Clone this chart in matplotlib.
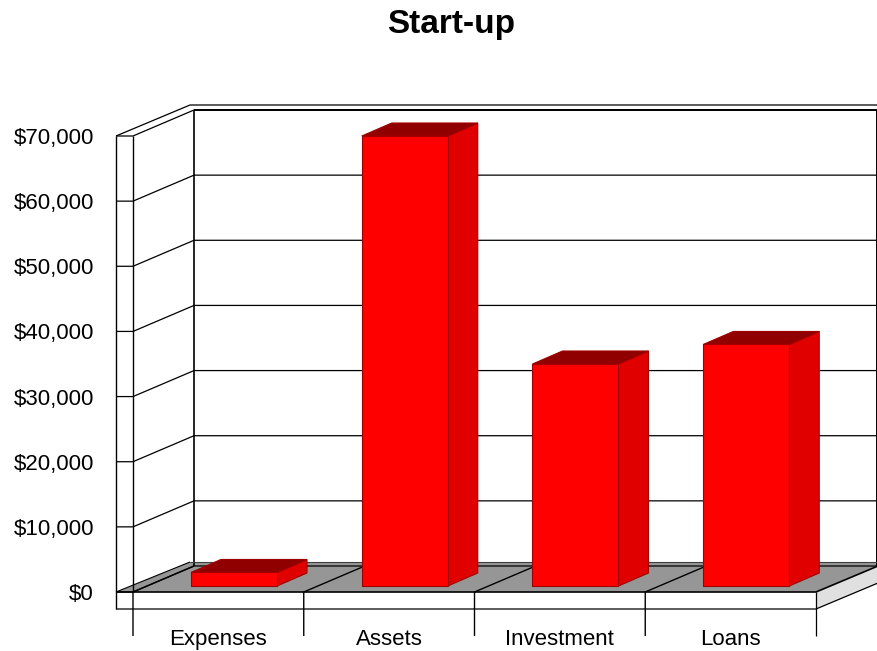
import matplotlib
matplotlib.use("Agg")
import matplotlib.pyplot as plt
from matplotlib.patches import Polygon

categories = ["Expenses", "Assets", "Investment", "Loans"]
values = [3000, 70000, 35000, 38000]
y_ticks = [0, 10000, 20000, 30000, 40000, 50000, 60000, 70000]

plt.rcParams["font.family"] = ["Liberation Sans", "DejaVu Sans"]

W, H = 878, 651
# front plane of the plot, in pixels
left, right = 133, 816
base, top = 592, 136
dx, dy = 61, -26      # depth of the box
slab = 17             # thickness of wall and floor
cat_w = (right - left) / len(categories)
bar_w, bar_dx, bar_dy = 86, 30, -13
bar_off, bar_lift = 58, 6


def yscale(v):
    return base - v * (base - top) / max(y_ticks)


fig = plt.figure(figsize=(W / 100, H / 100), dpi=100)
ax = fig.add_axes([0, 0, 1, 1])
ax.set_xlim(0, W)
ax.set_ylim(H, 0)
ax.axis("off")


def line(xs, ys, lw=1.0, color="black", z=2):
    ax.plot(xs, ys, color=color, lw=lw, zorder=z, solid_capstyle="butt")


# floor and right side slab
ax.add_patch(Polygon([(left - slab, base), (left + dx - 4, base + dy - 4), (W, base + dy - 4),
                      (W, base + dy), (right, base)],
                     fc="#969696", ec="none", zorder=1))
ax.add_patch(Polygon([(right, base), (W, base + dy), (W, base + dy + slab), (right, base + slab)],
                     fc="#e0e0e0", ec="none", zorder=1))

# back wall and left wall lines
back_top = yscale(max(y_ticks)) + dy
line([left + dx, left + dx], [back_top, base + dy], lw=1.2)
line([left + dx, W], [back_top, back_top], lw=1.4)
line([left - slab, left + dx - 4, W], [top, back_top - 5, back_top - 5], lw=0.9)
line([W - 0.5, W - 0.5], [back_top, base + dy], lw=1.4)
line([left - slab, left - slab], [top, base + slab], lw=1.0)
line([left, left], [top, base], lw=1.0)
line([left + dx - 4, W], [base + dy - 4, base + dy - 4], lw=0.8, color="#404040")

for v in y_ticks:
    y = yscale(v)
    line([left - slab, left, left + dx, W], [y, y, y + dy, y + dy], lw=0.9)
    ax.text(94, y, f"${v:,}", ha="right", va="center_baseline", fontsize=16, color="black")

# floor outline
line([left - slab, left + dx - 4], [base, base + dy - 4], lw=0.8)
line([left - slab, right, W], [base, base, base + dy], lw=1.2)
line([left - slab, right, W], [base + slab, base + slab, base + dy + slab], lw=0.9)
line([right, right], [base, 636], lw=0.9)

# category dividers and labels
for i, name in enumerate(categories):
    x = left + i * cat_w
    line([x, x, x + dx], [636, base, base + dy], lw=1.0)
    ax.text(x + cat_w / 2, 637, name, ha="center", va="center_baseline", fontsize=16, color="black")

# bars
edge = "#a00000"
for i, v in enumerate(values):
    x0 = left + i * cat_w + bar_off
    x1 = x0 + bar_w
    y0 = base - bar_lift
    y1 = yscale(v)
    ax.add_patch(Polygon([(x1, y1), (x1 + bar_dx, y1 + bar_dy), (x1 + bar_dx, y0 + bar_dy), (x1, y0)],
                         fc="#e00000", ec=edge, lw=0.8, zorder=5))
    ax.add_patch(Polygon([(x0, y1), (x0 + bar_dx, y1 + bar_dy), (x1 + bar_dx, y1 + bar_dy), (x1, y1)],
                         fc="#900000", ec=edge, lw=0.8, zorder=5))
    ax.add_patch(Polygon([(x0, y0), (x0, y1), (x1, y1), (x1, y0)],
                         fc="#ff0000", ec=edge, lw=0.8, zorder=6))

ax.text(451, 21, "Start-up", ha="center", va="center_baseline", fontsize=24, fontweight="bold")

fig.savefig("out.png", dpi=100)
